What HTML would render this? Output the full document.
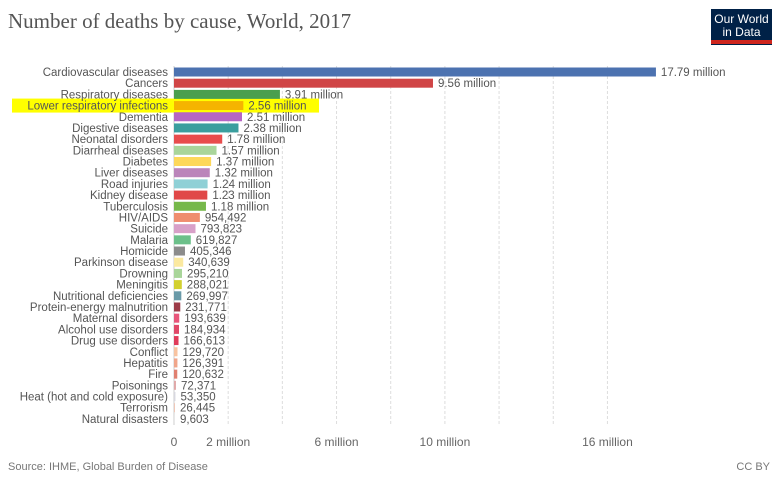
<!DOCTYPE html>
<html><head><meta charset="utf-8"><style>
body{margin:0;background:#fff;font-family:"Liberation Sans",sans-serif}
#wrap{position:relative;width:777px;height:483px;overflow:hidden}
</style></head><body>
<div id="wrap">
<svg id="chart" width="777" height="483">
<text x="8" y="28" font-family="Liberation Serif" font-size="21" fill="#555">Number of deaths by cause, World, 2017</text>
<g>
<rect x="711" y="9" width="61" height="36" fill="#002147"/>
<rect x="711" y="40" width="61" height="4" fill="#ce261e"/>
<text x="741.5" y="23" font-size="12" fill="#fff" text-anchor="middle">Our World</text>
<text x="741.5" y="36" font-size="12" fill="#fff" text-anchor="middle">in Data</text>
</g>
<g id="grid"></g>
<g id="bars"></g>
<g id="xaxis"></g>
<text x="8" y="470" font-size="11" fill="#777">Source: IHME, Global Burden of Disease</text>
<text x="770" y="470" font-size="11" fill="#777" text-anchor="end">CC BY</text>
</svg>
</div>
<script>
const categories=["Cardiovascular diseases","Cancers","Respiratory diseases","Lower respiratory infections","Dementia","Digestive diseases","Neonatal disorders","Diarrheal diseases","Diabetes","Liver diseases","Road injuries","Kidney disease","Tuberculosis","HIV/AIDS","Suicide","Malaria","Homicide","Parkinson disease","Drowning","Meningitis","Nutritional deficiencies","Protein-energy malnutrition","Maternal disorders","Alcohol use disorders","Drug use disorders","Conflict","Hepatitis","Fire","Poisonings","Heat (hot and cold exposure)","Terrorism","Natural disasters"];
const values=[17790000,9560000,3910000,2560000,2510000,2380000,1780000,1570000,1370000,1320000,1240000,1230000,1180000,954492,793823,619827,405346,340639,295210,288021,269997,231771,193639,184934,166613,129720,126391,120632,72371,53350,26445,9603];
const labels=["17.79 million","9.56 million","3.91 million","2.56 million","2.51 million","2.38 million","1.78 million","1.57 million","1.37 million","1.32 million","1.24 million","1.23 million","1.18 million","954,492","793,823","619,827","405,346","340,639","295,210","288,021","269,997","231,771","193,639","184,934","166,613","129,720","126,391","120,632","72,371","53,350","26,445","9,603"];
const colors=["#4c72b0","#d04546","#4a9f4e","#f5b400","#b565c4","#3a9e9e","#e84c4c","#a9d59a","#fdd85a","#bb85ba","#8fd0d6","#e04848","#76b84a","#ef8d6e","#d8a0c8","#6cc08a","#8c8c8c","#fbe9a0","#a9d59a","#d2d030","#6a9aa8","#9c3b48","#e8557a","#e04868","#e03c5a","#f8c3a0","#f0a58a","#e08070","#e0a8a8","#d8d8e0","#f0c8b8","#e8e8e8"];
const gridTicks=[2,4,6,8,10,12,14,16];
const tickValues=[0,2,6,10,16];
const tickLabels=["0","2 million","6 million","10 million","16 million"];
const NS="http://www.w3.org/2000/svg";
const x0=174,pxPerM=27.09,y0=72,step=11.19,bh=9;
const xs=v=>x0+v/1e6*pxPerM;
const ys=i=>y0+i*step;
function mk(t,a,p){const e=document.createElementNS(NS,t);for(const k in a)e.setAttribute(k,a[k]);p.appendChild(e);return e;}
const grid=document.getElementById('grid'),bars=document.getElementById('bars'),xa=document.getElementById('xaxis');
gridTicks.forEach(g=>{const l=mk('line',{x1:xs(g*1e6),x2:xs(g*1e6),y1:66,y2:425,stroke:'#ddd','stroke-dasharray':'3,2'},grid);

});
const ax=mk('line',{x1:x0,x2:x0,y1:66,y2:425,stroke:'#ccc'},grid);


const hl=mk('rect',{x:12,y:ys(3)-7,width:307,height:14,fill:'#ffff00'},bars);


categories.forEach((c,i)=>{const y=ys(i);
const t=mk('text',{x:168,y:y+4,'font-size':11.5,fill:'#555','text-anchor':'end'},bars);t.textContent=c;


const w=Math.max(1,xs(values[i])-x0);
const r=mk('rect',{x:x0,y:y-bh/2,width:w,height:bh,fill:colors[i]},bars);


const v=mk('text',{x:x0+w+5,y:y+4,'font-size':11.5,fill:'#555'},bars);v.textContent=labels[i];

});
tickValues.forEach((t,i)=>{const e=mk('text',{x:xs(t*1e6),y:446,'font-size':12,fill:'#666','text-anchor':'middle'},xa);e.textContent=tickLabels[i];

});
</script>
</body></html>
